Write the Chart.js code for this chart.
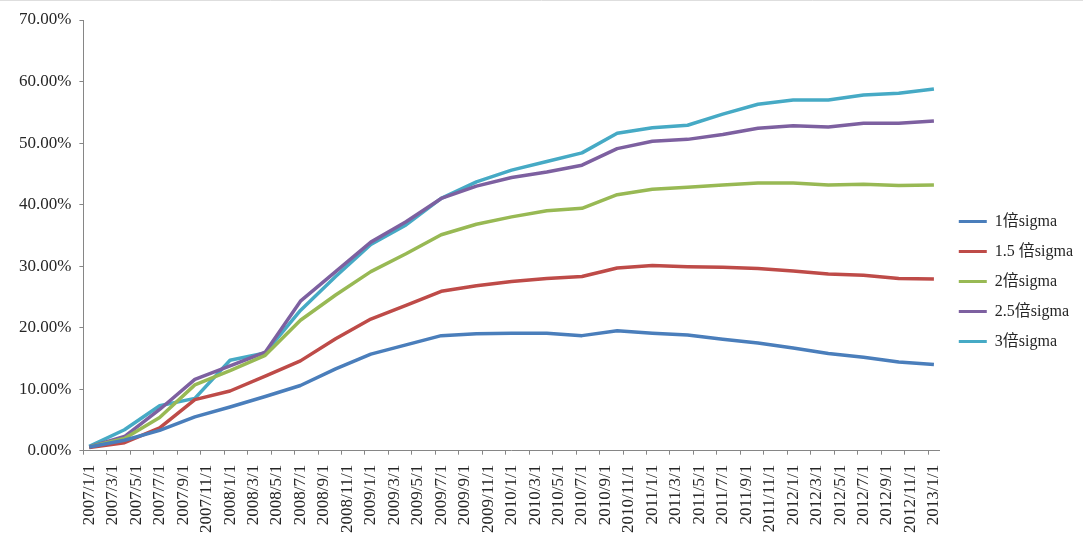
<!DOCTYPE html>
<html>
<head>
<meta charset="utf-8">
<script src="https://cdn.jsdelivr.net/npm/chart.js@4.4.1/dist/chart.umd.min.js"></script>
<style>
  body { margin: 0; background: #fff; }
  canvas { display: block; }
</style>
</head>
<body>
<canvas id="myChart" width="1083" height="549"></canvas>
<script>
// quarterly observation dates
var quarters = ['2007/1/1', '2007/4/1', '2007/7/1', '2007/10/1', '2008/1/1', '2008/4/1', '2008/7/1', '2008/10/1',
    '2009/1/1', '2009/4/1', '2009/7/1', '2009/10/1', '2010/1/1', '2010/4/1', '2010/7/1', '2010/10/1',
    '2011/1/1', '2011/4/1', '2011/7/1', '2011/10/1', '2012/1/1', '2012/4/1', '2012/7/1', '2012/10/1', '2013/1/1'];

// values in percent
var sigma1 = [0.6, 1.7, 3.3, 5.5, 7.1, 8.8, 10.6, 13.3, 15.7, 17.2, 18.7, 19.0, 19.1, 19.1, 18.7, 19.5,
    19.1, 18.8, 18.1, 17.5, 16.7, 15.8, 15.2, 14.4, 14.0];
var sigma15 = [0.5, 1.3, 3.7, 8.3, 9.7, 12.1, 14.6, 18.2, 21.4, 23.6, 25.9, 26.8, 27.5, 28.0, 28.3, 29.7,
    30.1, 29.9, 29.8, 29.6, 29.2, 28.7, 28.5, 28.0, 27.9];
var sigma2 = [0.6, 2.0, 5.4, 10.7, 13.0, 15.5, 21.2, 25.3, 29.1, 32.0, 35.1, 36.8, 38.0, 39.0, 39.4, 41.6,
    42.5, 42.8, 43.2, 43.5, 43.5, 43.2, 43.3, 43.1, 43.2];
var sigma25 = [0.6, 2.3, 6.7, 11.6, 13.8, 16.0, 24.3, 29.1, 33.9, 37.2, 41.0, 43.0, 44.4, 45.3, 46.4, 49.1,
    50.3, 50.6, 51.4, 52.4, 52.8, 52.6, 53.2, 53.2, 53.6];
var sigma3 = [0.7, 3.4, 7.3, 8.5, 14.7, 15.9, 22.8, 28.3, 33.5, 36.7, 41.0, 43.7, 45.6, 47.0, 48.4, 51.6,
    52.5, 52.9, 54.7, 56.3, 57.0, 57.0, 57.8, 58.1, 58.8];

var seriesNames = ['1倍sigma', '1.5 倍sigma', '2倍sigma', '2.5倍sigma', '3倍sigma'];
var seriesColors = ['#4a7ebb', '#be4b48', '#98b954', '#7d60a0', '#46aac5'];

// month axis 2007/1/1 .. 2013/1/1, a label every second month
var months = [];
for (var y = 2007; y <= 2013; y++) {
    for (var m = 1; m <= 12; m++) {
        if (y === 2013 && m > 1) break;
        months.push(y + '/' + m + '/1');
    }
}

var axisColor = '#868686';
var textColor = '#262626';
var serif = "'Liberation Serif', 'Times New Roman', 'Noto Sans CJK SC', serif";

function toPoints(values) {
    return values.map(function (v, i) { return { x: quarters[i], y: v }; });
}

var allValues = [sigma1, sigma15, sigma2, sigma25, sigma3];
var datasets = allValues.map(function (vals, i) {
    return {
        label: seriesNames[i],
        data: toPoints(vals),
        borderColor: seriesColors[i],
        backgroundColor: seriesColors[i],
        borderWidth: 3.5,
        pointRadius: 0,
        tension: 0,
        borderJoinStyle: 'round',
        fill: false
    };
});

// white page with the thin grey frame line at the top
var frame = {
    id: 'frame',
    beforeDraw: function (chart) {
        var c = chart.ctx;
        c.save();
        c.fillStyle = '#fff';
        c.fillRect(0, 0, chart.width, chart.height);
        c.strokeStyle = '#dedede';
        c.lineWidth = 1;
        c.beginPath();
        c.moveTo(0, 0.5);
        c.lineTo(chart.width, 0.5);
        c.stroke();
        c.restore();
    }
};

var ctx = document.getElementById('myChart').getContext('2d');
var chart = new Chart(ctx, {
    type: 'line',
    data: {
        labels: months,
        datasets: datasets
    },
    plugins: [frame],
    options: {
        responsive: false,
        animation: false,
        layout: {
            padding: { left: 11, top: 20, right: 0, bottom: 6 }
        },
        plugins: {
            tooltip: { enabled: false },
            legend: {
                position: 'right',
                labels: {
                    color: textColor,
                    font: { family: serif, size: 16 },
                    boxWidth: 28,
                    boxHeight: 3,
                    padding: 14,
                    generateLabels: function (chart) {
                        return Chart.defaults.plugins.legend.labels.generateLabels(chart).map(function (l) {
                            l.fillStyle = l.strokeStyle;
                            l.lineWidth = 0;
                            return l;
                        });
                    }
                }
            }
        },
        scales: {
            x: {
                type: 'category',
                offset: true,
                grid: {
                    offset: true,
                    drawOnChartArea: false,
                    tickLength: 4,
                    tickColor: function (c) { return c.index % 2 === 0 ? axisColor : 'rgba(0,0,0,0)'; }
                },
                border: { color: axisColor, width: 1 },
                ticks: {
                    autoSkip: false,
                    maxRotation: 90,
                    minRotation: 90,
                    padding: 10,
                    color: textColor,
                    font: { family: serif, size: 17 },
                    callback: function (value, index) {
                        return index % 2 === 0 ? this.getLabelForValue(value) : '';
                    }
                }
            },
            y: {
                min: 0,
                max: 70,
                grid: {
                    drawOnChartArea: false,
                    tickLength: 4,
                    tickColor: axisColor
                },
                border: { color: axisColor, width: 1 },
                ticks: {
                    stepSize: 10,
                    padding: 8,
                    color: textColor,
                    font: { family: serif, size: 17 },
                    callback: function (v) { return v.toFixed(2) + '%'; }
                }
            },
            // empty strip between plot and legend
            gap: {
                type: 'linear',
                position: 'right',
                grid: { display: false },
                border: { display: false },
                ticks: { display: false },
                afterFit: function (s) { s.width = 5; }
            }
        }
    }
});
</script>
</body>
</html>
